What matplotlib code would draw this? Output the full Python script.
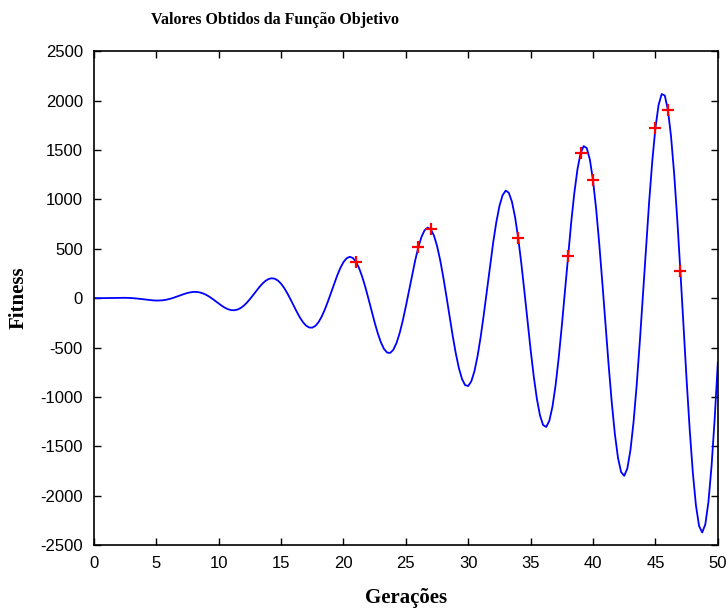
import matplotlib
matplotlib.use("Agg")
import matplotlib.pyplot as plt

plt.rcParams["axes.unicode_minus"] = False

# Curve, x every 0.25 from 0 to 50
geracoes = [i * 0.25 for i in range(201)]
fitness = [
    0, 0.02, 0.12, 0.38, 0.84, 1.48, 2.24, 3.01, 3.64, 3.94,
    3.74, 2.89, 1.27, -1.14, -4.30, -8.04, -12.11, -16.17, -19.79, -22.55,
    -23.97, -23.67, -21.34, -16.81, -10.06, -1.30, 9.09, 20.50, 32.19, 43.29,
    52.76, 59.74, 63.32, 62.80, 57.69, 47.83, 33.38, 14.88, -6.79, -30.37,
    -54.40, -77.22, -96.99, -112.09, -121.0, -122.50, -115.79, -100.62, -77.27, -46.68,
    -10.36, 29.69, 71.01, 110.92, 146.49, 175.03, 194.16, 201.78, 196.56, 177.99,
    146.32, 102.82, 49.61, -10.42, -73.70, -136.20, -193.79, -242.38, -277.84, -297.44,
    -298.78, -280.82, -243.32, -188.01, -117.22, -34.95, 54.11, 144.45, 230.24, 305.70,
    365.17, 404.11, 418.90, 407.40, 368.97, 304.86, 218.04, 113.02, -4.29, -126.68,
    -246.60, -356.14, -447.63, -514.46, -551.13, -554.19, -521.62, -454.28, -354.99, -228.79,
    -82.75, 74.60, 233.51, 383.78, 515.52, 619.40, 687.78, 714.77, 697.22, 634.52,
    528.85, 385.49, 212.39, 19.39, -181.78, -378.57, -558.09, -708.49, -818.91, -881.08,
    -889.20, -841.12, -737.97, -584.17, -388.24, -161.23, 83.35, 330.54, 564.63, 770.37,
    933.51, 1042.64, 1088.89, 1067.53, 977.37, 823.09, 611.64, 355.09, 68.44, -231.01,
    -524.55, -793.13, -1019.54, -1187.83, -1285.37, -1304.21, -1241.39, -1097.74, -880.95, -602.48,
    -278.16, 72.54, 428.0, 766.06, 1064.26, 1303.21, 1466.24, 1540.25, 1519.06, 1401.51,
    1192.16, 902.37, 548.01, 150.45, -266.61, -677.22, -1054.88, -1375.62, -1616.71, -1761.68,
    -1799.21, -1724.12, -1537.81, -1250.47, -877.63, -440.62, 34.27, 517.91, 980.03, 1390.98,
    1723.07, 1954.60, 2067.35, 2052.87, 1908.21, 1640.45, 1263.19, 798.39, 273.03, -280.86,
    -828.72, -1336.12, -1769.93, -2101.31, -2308.03, -2372.99, -2289.83, -2061.73, -1697.78, -1220.20,
    -656.0,
]

# Red marked points
pontos_x = [21, 26, 27, 34, 38, 39, 40, 45, 46, 47]
pontos_y = [369, 516, 697, 612, 428, 1466, 1192, 1723, 1908, 273]

xticks = [0, 5, 10, 15, 20, 25, 30, 35, 40, 45, 50]
yticks = [-2500, -2000, -1500, -1000, -500, 0, 500, 1000, 1500, 2000, 2500]

fig = plt.figure(figsize=(7.28, 6.11), dpi=100)
ax = fig.add_axes([0.129, 0.108, 0.857, 0.808])

ax.plot(geracoes, fitness, color="#0000ff", linewidth=1.3)
ax.plot(pontos_x, pontos_y, "+", color="red", markersize=9, markeredgewidth=1.6)

ax.set_xlim(0, 50)
ax.set_ylim(-2500, 2500)
ax.set_xticks(xticks)
ax.set_yticks(yticks)
ax.tick_params(direction="in", top=True, right=True, length=5, width=1,
               labelsize=12, pad=8)
for lbl in ax.get_xticklabels() + ax.get_yticklabels():
    lbl.set_family("Liberation Sans")
for s in ax.spines.values():
    s.set_linewidth(1.2)

# title sits left of the axes centre in the original
fig.text(275 / 728, 1 - 20 / 611, "Valores Obtidos da Função Objetivo",
         ha="center", va="center", family="Liberation Serif",
         weight="bold", size=11.5)

lab = {"family": "Liberation Serif", "weight": "bold", "size": 15}
ax.set_xlabel("Gerações", fontdict=lab, labelpad=12)
ax.set_ylabel("Fitness", fontdict=lab, labelpad=8)

fig.savefig("out.png", dpi=100)
